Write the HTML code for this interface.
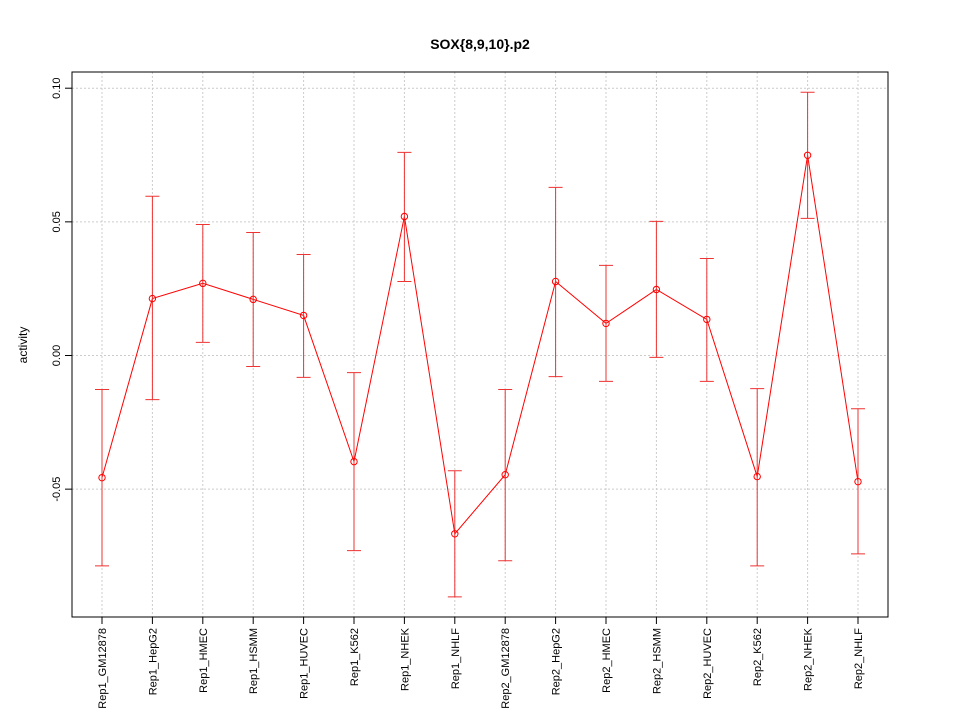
<!DOCTYPE html>
<html><head><meta charset="utf-8"><style>
body{margin:0;background:#fff;font-family:"Liberation Sans",sans-serif}
</style></head><body>
<svg id="chart" width="960" height="720" xmlns="http://www.w3.org/2000/svg" font-family="Liberation Sans, sans-serif">
<rect width="960" height="720" fill="#fff"/>
<text x="480" y="49" text-anchor="middle" font-size="14" font-weight="bold">SOX{8,9,10}.p2</text>
<text transform="translate(27,345) rotate(-90)" text-anchor="middle" font-size="12">activity</text>
<g id="grid"></g><g id="axes"></g><g id="marks"></g>
<rect x="72" y="72" width="816" height="545" fill="none" stroke="#000" stroke-width="1"/>
</svg>
<script>
const categories=["Rep1_GM12878","Rep1_HepG2","Rep1_HMEC","Rep1_HSMM","Rep1_HUVEC","Rep1_K562","Rep1_NHEK","Rep1_NHLF","Rep2_GM12878","Rep2_HepG2","Rep2_HMEC","Rep2_HSMM","Rep2_HUVEC","Rep2_K562","Rep2_NHEK","Rep2_NHLF"];
const values=[-0.0457,0.0213,0.027,0.021,0.015,-0.0397,0.052,-0.0667,-0.0446,0.0277,0.012,0.0247,0.0135,-0.0453,0.0749,-0.0472];
const upper=[-0.0127,0.0596,0.049,0.046,0.0378,-0.0064,0.076,-0.0431,-0.0127,0.0629,0.0337,0.0502,0.0363,-0.0124,0.0985,-0.0199];
const lower=[-0.0787,-0.0165,0.0049,-0.0041,-0.0082,-0.073,0.0277,-0.0903,-0.0768,-0.0079,-0.0097,-0.0007,-0.0097,-0.0787,0.0513,-0.0742];
const yTicks=[-0.05,0,0.05,0.1];
const yTickLabels=["-0.05","0.00","0.05","0.10"];
const NS="http://www.w3.org/2000/svg";
const L=72,R=888,T=72,B=617;
function xs(i){const n=categories.length;const span=(R-L)/(n-1+0.08*(n-1)/1);return L+ (R-L)*((i+0.6)/ (n-1+1.2))*0+ (102-72)+(i)*( (R-L-60)/(n-1));}
function ys(v){return 355.5-v*2673;}
function mk(tag,attrs,parent){const e=document.createElementNS(NS,tag);for(const k in attrs)e.setAttribute(k,attrs[k]);parent.appendChild(e);return e;}
const grid=document.getElementById('grid'),axes=document.getElementById('axes'),marks=document.getElementById('marks');
categories.forEach((c,i)=>{const x=xs(i);
 const g=mk('line',{x1:x,x2:x,y1:T,y2:B,stroke:'#ccc','stroke-dasharray':'2,2'},grid);
 
 
 const t=mk('line',{x1:x,x2:x,y1:B,y2:B+7,stroke:'#000'},axes);
 
 
 const lb=mk('text',{transform:`translate(${x+4},${B+11}) rotate(-90)`,'text-anchor':'end','font-size':'11'},axes);
 lb.textContent=c;
 
 
});
yTicks.forEach((v,i)=>{const y=ys(v);
 const g=mk('line',{x1:L,x2:R,y1:y,y2:y,stroke:'#ccc','stroke-dasharray':'2,2'},grid);
 
 
 const t=mk('line',{x1:L-7,x2:L,y1:y,y2:y,stroke:'#000'},axes);
 
 
 const lb=mk('text',{transform:`translate(${L-12},${y}) rotate(-90)`,'text-anchor':'middle','font-size':'11'},axes);
 lb.textContent=yTickLabels[i];
 
 
});
const pts=values.map((v,i)=>xs(i)+','+ys(v)).join(' ');
const line=mk('polyline',{points:pts,fill:'none',stroke:'#f00','stroke-width':1},marks);


values.forEach((v,i)=>{const x=xs(i);
 const e=mk('path',{d:`M${x},${ys(upper[i])}V${ys(lower[i])}M${x-7},${ys(upper[i])}H${x+7}M${x-7},${ys(lower[i])}H${x+7}`,stroke:'#e33',fill:'none'},marks);
 
 
 const p=mk('circle',{cx:x,cy:ys(v),r:3.2,fill:'none',stroke:'#f00'},marks);
 
 
});
</script>
</body></html>
